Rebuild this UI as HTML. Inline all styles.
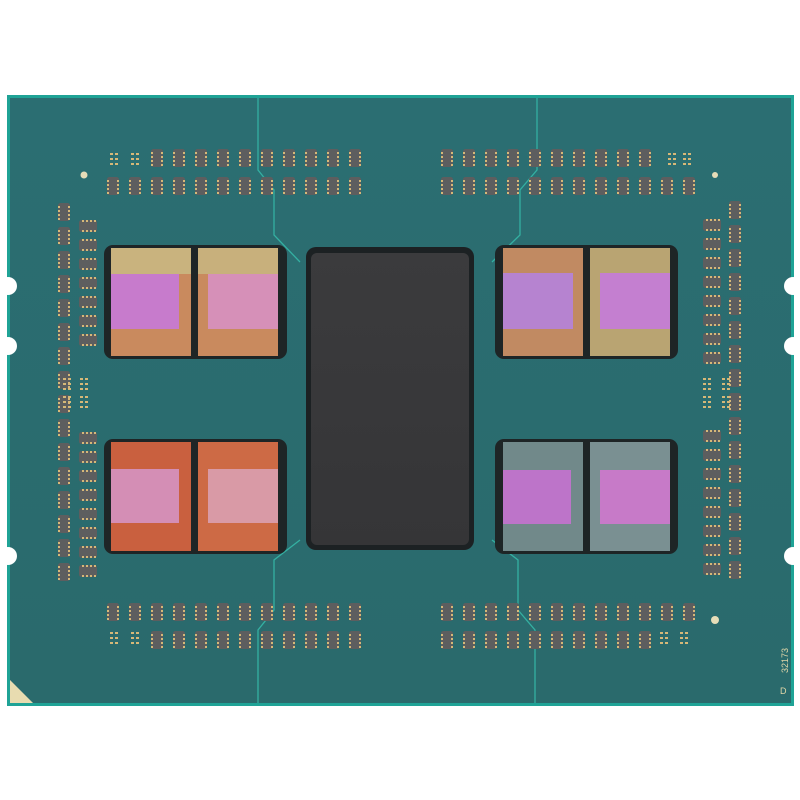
<!DOCTYPE html>
<html><head><style>
html,body{margin:0;padding:0;background:#fff;width:800px;height:800px;overflow:hidden}
</style></head><body>
<svg id="s" width="800" height="800" viewBox="0 0 800 800" xmlns="http://www.w3.org/2000/svg">
<defs>
<linearGradient id="sub" x1="0" y1="0" x2="0" y2="1">
<stop offset="0" stop-color="#2b6e72"/><stop offset="1" stop-color="#2a6a6c"/></linearGradient>
<linearGradient id="io" x1="0" y1="0" x2="0" y2="1">
<stop offset="0" stop-color="#3b3b3d"/><stop offset="1" stop-color="#353537"/></linearGradient>
</defs>
<rect x="7" y="95" width="787" height="611" fill="#1fa396"/>
<rect x="10" y="98" width="781" height="605" fill="url(#sub)"/>
<g fill="#fff">
<circle cx="8" cy="286" r="9"/><circle cx="8" cy="346" r="9"/><circle cx="8" cy="556" r="9"/>
<circle cx="793" cy="286" r="9"/><circle cx="793" cy="346" r="9"/><circle cx="793" cy="556" r="9"/>
</g>
<g fill="none" stroke="#34b0a2" stroke-width="1.3">
<polyline points="258,98 258,170 274,190 274,235 300,262"/>
<polyline points="537,98 537,170 520,190 520,235 492,262"/>
<polyline points="300,540 274,560 274,610 258,630 258,703"/>
<polyline points="492,540 518,560 518,610 535,630 535,703"/>
</g>
<polygon points="10,680 10,703 33,703" fill="#e8dcb0"/>
<circle cx="84" cy="175" r="3.5" fill="#e6ddb8"/>
<circle cx="715" cy="620" r="4" fill="#e6ddb8"/>
<circle cx="715" cy="175" r="3" fill="#e6ddb8"/>
<text x="788" y="673" transform="rotate(-90 788 673)" font-family="Liberation Sans,sans-serif" font-size="9" fill="#e0d6a8">32173</text>
<text x="780" y="694" font-family="Liberation Sans,sans-serif" font-size="9" fill="#e0d6a8">D</text>
<g id="caps"></g>
<g>
<rect x="104" y="245" width="183" height="114" rx="9" fill="#1e2526"/>
<rect x="111" y="248" width="80" height="108" fill="#c98a5e"/>
<rect x="111" y="248" width="80" height="26" fill="#c9b37e"/>
<rect x="111" y="274" width="68" height="55" fill="#c77bcc"/>
<rect x="198" y="248" width="80" height="108" fill="#c98a5e"/>
<rect x="198" y="248" width="80" height="26" fill="#c8b07c"/>
<rect x="208" y="274" width="70" height="55" fill="#d690b8"/>

<rect x="104" y="439" width="183" height="115" rx="9" fill="#1e2526"/>
<rect x="111" y="442" width="80" height="109" fill="#c9603f"/>
<rect x="111" y="469" width="68" height="54" fill="#d48eb5"/>
<rect x="198" y="442" width="80" height="109" fill="#cd6a45"/>
<rect x="208" y="469" width="70" height="54" fill="#d99aa6"/>

<rect x="495" y="245" width="183" height="114" rx="9" fill="#1e2526"/>
<rect x="503" y="248" width="80" height="108" fill="#c18a62"/>
<rect x="503" y="273" width="70" height="56" fill="#b683d0"/>
<rect x="590" y="248" width="80" height="108" fill="#b9a472"/>
<rect x="600" y="273" width="70" height="56" fill="#c47fd0"/>

<rect x="495" y="439" width="183" height="115" rx="9" fill="#1e2526"/>
<rect x="503" y="442" width="80" height="109" fill="#71898a"/>
<rect x="503" y="470" width="68" height="54" fill="#bd74c9"/>
<rect x="590" y="442" width="80" height="109" fill="#7a9092"/>
<rect x="600" y="470" width="70" height="54" fill="#c77ac8"/>

<rect x="306" y="247" width="168" height="303" rx="10" fill="#1c2123"/>
<rect x="311" y="253" width="158" height="292" rx="6" fill="url(#io)"/>
</g>
</svg>
<script>
var g=document.getElementById('caps'),h='';
function v(x,y){h+='<rect x="'+(x-6)+'" y="'+(y-9)+'" width="12" height="18" rx="2.5" fill="#5d5e5f"/>';
 for(var i=0;i<4;i++){h+='<rect x="'+(x-6)+'" y="'+(y-6+i*4)+'" width="2" height="2" fill="#d6b878"/><rect x="'+(x+4)+'" y="'+(y-6+i*4)+'" width="2" height="2" fill="#d6b878"/>';}}
function hz(x,y){h+='<rect x="'+(x-9)+'" y="'+(y-6)+'" width="18" height="12" rx="2.5" fill="#5d5e5f"/>';
 for(var i=0;i<4;i++){h+='<rect x="'+(x-6+i*4)+'" y="'+(y-6)+'" width="2" height="2" fill="#d6b878"/><rect x="'+(x-6+i*4)+'" y="'+(y+4)+'" width="2" height="2" fill="#d6b878"/>';}}
function pads(x,y){for(var r=0;r<3;r++)for(var c=0;c<2;c++)h+='<rect x="'+(x+c*5)+'" y="'+(y+r*5)+'" width="3" height="2" fill="#d6b878"/>';}
var i;
pads(110,153);pads(131,153);
for(i=0;i<10;i++)v(157+i*22,158);
for(i=0;i<12;i++)v(113+i*22,186);
for(i=0;i<10;i++)v(447+i*22,158);pads(668,153);pads(683,153);
for(i=0;i<12;i++)v(447+i*22,186);
for(i=0;i<12;i++)v(113+i*22,612);
pads(110,632);pads(131,632);
for(i=0;i<10;i++)v(157+i*22,640);
for(i=0;i<12;i++)v(447+i*22,612);
for(i=0;i<10;i++)v(447+i*22,640);pads(660,632);pads(680,632);
for(i=0;i<16;i++)v(64,212+i*24);
for(i=0;i<7;i++)hz(88,226+i*19);
pads(63,378);pads(80,378);pads(63,396);pads(80,396);
for(i=0;i<8;i++)hz(88,438+i*19);
for(i=0;i<16;i++)v(735,210+i*24);
for(i=0;i<8;i++)hz(712,225+i*19);
pads(703,378);pads(722,378);pads(703,396);pads(722,396);
for(i=0;i<8;i++)hz(712,436+i*19);
g.innerHTML=h;
</script>
</body></html>
